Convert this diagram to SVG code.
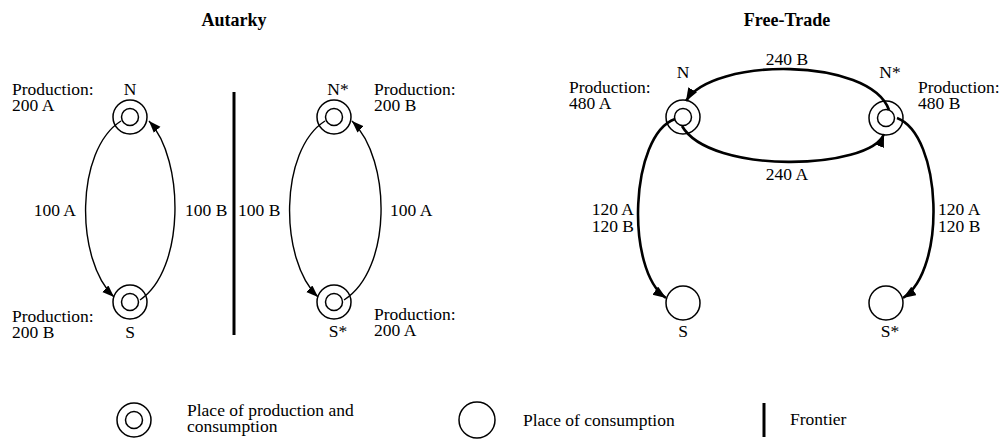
<svg xmlns="http://www.w3.org/2000/svg" width="1007" height="441" viewBox="0 0 1007 441">
<style>
text{font-family:"Liberation Serif","Times New Roman",serif;font-size:17.5px;fill:#000}
.t{font-weight:bold;font-size:18px}
.c{fill:none;stroke:#000;stroke-width:1.5}
.e{fill:none;stroke:#000;stroke-width:1.4}
.eb{fill:none;stroke:#000;stroke-width:2.6}
.m{text-anchor:middle}
.r{text-anchor:end}
.fr{stroke:#000;stroke-width:3}
</style>
<defs>
<marker id="arr" markerUnits="userSpaceOnUse" markerWidth="13" markerHeight="10" refX="12" refY="4.5" orient="auto"><path d="M0,0 L12,4.5 L0,9 z" fill="#000"/></marker>
<marker id="arrB" markerUnits="userSpaceOnUse" markerWidth="15" markerHeight="11" refX="13" refY="5" orient="auto"><path d="M0,0 L13,5 L0,10 z" fill="#000"/></marker>
</defs>
<text class="t m" x="234" y="26">Autarky</text>
<text class="t m" x="787" y="26">Free-Trade</text>
<line id="frontier" class="fr" x1="234" y1="92" x2="234" y2="335"/>
<g id="edges">
<path class="e" d="M121,121 C75,150 75,260 114,297" marker-end="url(#arr)"/>
<path class="e" d="M140,300 C185,270 185,160 149,121" marker-end="url(#arr)"/>
<path class="e" d="M325,121 C279,150 279,260 318,297" marker-end="url(#arr)"/>
<path class="e" d="M344,300 C392,270 392,160 352,121" marker-end="url(#arr)"/>
<path class="eb" d="M889,110 C870,57 712,57 686,101" marker-end="url(#arrB)"/>
<path class="eb" d="M682,126 C710,175 870,170 884,134" marker-end="url(#arrB)"/>
<path class="eb" d="M675,119 C630,135 625,270 666,298" marker-end="url(#arrB)"/>
<path class="eb" d="M897,118 C942,135 947,270 903,298" marker-end="url(#arrB)"/>
<text class="r" x="76" y="216">100 A</text>
<text x="185" y="216">100 B</text>
<text x="238" y="216">100 B</text>
<text x="390" y="216">100 A</text>
<text class="m" x="787" y="65">240 B</text>
<text class="m" x="787" y="180">240 A</text>
<text class="r" x="634" y="215">120 A</text>
<text class="r" x="634" y="232">120 B</text>
<text x="938" y="215">120 A</text>
<text x="938" y="232">120 B</text>
</g>
<g id="nodeN">
<circle class="c" cx="130" cy="117" r="17"/><circle class="c" cx="130" cy="117" r="8.5"/>
<text class="m" x="130" y="95">N</text>
<text x="12" y="95">Production:</text><text x="12" y="111">200 A</text>
</g>
<g id="nodeS">
<circle class="c" cx="130" cy="302" r="17"/><circle class="c" cx="130" cy="302" r="8.5"/>
<text class="m" x="130" y="338">S</text>
<text x="12" y="322">Production:</text><text x="12" y="338">200 B</text>
</g>
<g id="nodeNstar">
<circle class="c" cx="334" cy="117" r="17"/><circle class="c" cx="334" cy="117" r="8.5"/>
<text class="m" x="338" y="95">N*</text>
<text x="374" y="95">Production:</text><text x="374" y="111">200 B</text>
</g>
<g id="nodeSstar">
<circle class="c" cx="334" cy="302" r="17"/><circle class="c" cx="334" cy="302" r="8.5"/>
<text class="m" x="338" y="337">S*</text>
<text x="374" y="320">Production:</text><text x="374" y="336">200 A</text>
</g>
<g id="ftN">
<circle class="c" cx="683" cy="117" r="17"/><circle class="c" cx="683" cy="117" r="8.5"/>
<text class="m" x="683" y="78">N</text>
<text x="569" y="93">Production:</text><text x="569" y="109">480 A</text>
</g>
<g id="ftNstar">
<circle class="c" cx="886" cy="118" r="17"/><circle class="c" cx="886" cy="118" r="8.5"/>
<text class="m" x="890" y="78">N*</text>
<text x="918" y="93">Production:</text><text x="918" y="109">480 B</text>
</g>
<g id="ftS">
<circle class="c" cx="683" cy="303" r="17"/>
<text class="m" x="683" y="337">S</text>
</g>
<g id="ftSstar">
<circle class="c" cx="886" cy="303" r="17"/>
<text class="m" x="890" y="337">S*</text>
</g>
<g id="legend">
<circle class="c" cx="134" cy="420" r="17"/><circle class="c" cx="134" cy="420" r="8.5"/>
<text x="187" y="416">Place of production and</text>
<text x="187" y="432">consumption</text>
<circle class="c" cx="477" cy="420" r="18"/>
<text x="523" y="426">Place of consumption</text>
<line class="fr" x1="764" y1="403" x2="764" y2="437"/>
<text x="790" y="425">Frontier</text>
</g>
</svg>
